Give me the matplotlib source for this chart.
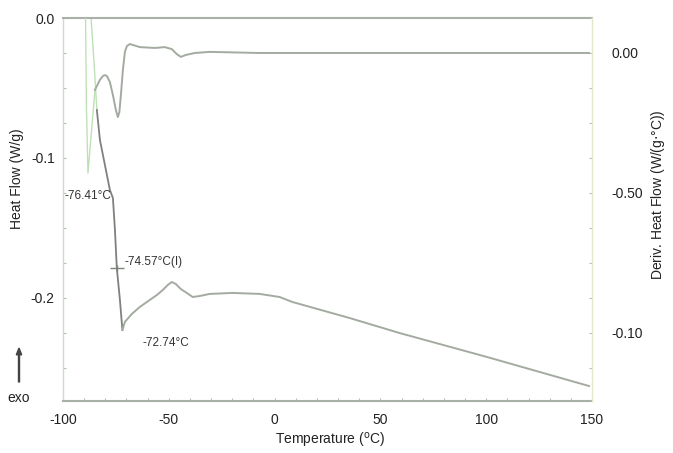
import matplotlib
matplotlib.use("Agg")
import matplotlib.pyplot as plt
from matplotlib.patches import FancyArrow
from matplotlib.ticker import MultipleLocator, FixedLocator

plt.rcParams['font.family'] = ['Liberation Sans', 'DejaVu Sans']

# Heat flow (W/g) vs temperature (°C): early light-green segment, then main trace
hf_early_T = [-87.0, -85.4, -84.0]
hf_early_H = [0.0057, -0.030, -0.0657]

hf_T = [-84.0, -82.55, -80.19, -77.83, -76.41, -75.47, -74.57, -73.1, -71.93,
        -70.75, -67.45, -63.68, -58.96, -55.66, -52.83, -50.47, -48.58, -46.7,
        -44.34, -41.5, -38.7, -35.38, -30.66, -19.8, -7.08, 2.36, 8.49, 35.4,
        58.96, 100.0, 148.6]
hf_H = [-0.0657, -0.0871, -0.105, -0.1229, -0.1286, -0.151, -0.1786, -0.2014, -0.2229,
        -0.2171, -0.2114, -0.2064, -0.2014, -0.1979, -0.1943, -0.1907, -0.1886, -0.19,
        -0.1936, -0.1964, -0.1993, -0.1986, -0.1971, -0.1964, -0.1971, -0.1993, -0.2029,
        -0.2143, -0.225, -0.242, -0.2629]

# Derivative heat flow (W/(g·°C)): early light-green spike, then main trace
dhf_early_T = [-89.4, -88.9, -88.2, -85.7, -84.9]
dhf_early_D = [0.0171, -0.0204, -0.0429, -0.0204, -0.0132]

dhf_T = [-84.9, -82.55, -81.13, -80.19, -79.25, -77.83, -76.42, -75.0, -74.06,
         -73.35, -72.64, -71.7, -70.75, -69.8, -68.4, -63.7, -56.6, -51.9,
         -48.6, -46.2, -44.3, -42.0, -37.7, -30.66, -7.1, 148.6]
dhf_D = [-0.0132, -0.0096, -0.0082, -0.0079, -0.0082, -0.0104, -0.015, -0.0204, -0.0229,
         -0.0211, -0.015, -0.0061, 0.0004, 0.0025, 0.0032, 0.0021, 0.0018, 0.0021,
         0.0014, -0.0004, -0.0014, -0.0007, 0.0, 0.0004, 0.0, 0.0]

x_ticks = [-100, -50, 0, 50, 100, 150]
left_ticks = [0.0, -0.1, -0.2]
left_labels = ['0.0', '-0.1', '-0.2']
right_ticks = [0.0, -0.05, -0.10]
right_labels = ['0.00', '-0.50', '-0.10']

# Marked points on the heat flow trace
onset_T, onset_H = -76.41, -0.1286
glass_T, glass_H = -74.57, -0.1786
end_T, end_H = -72.74, -0.2229

gray = '#a3aba1'
dark = '#7d827b'
light_green = '#bfe0b6'
axis_gray = '#a9b0a7'

fig = plt.figure(figsize=(6.73, 4.53), dpi=100)
ax = fig.add_axes([63/673, 1-401/453, (592-63)/673, (401-18)/453])
ax2 = ax.twinx()

ax.plot(hf_early_T, hf_early_H, color=light_green, lw=1.0)
ax.plot(hf_T[:9], hf_H[:9], color=dark, lw=1.3)
ax.plot(hf_T[8:], hf_H[8:], color=gray, lw=1.4)

ax2.plot(dhf_early_T, dhf_early_D, color=light_green, lw=1.0)
ax2.plot(dhf_T, dhf_D, color=gray, lw=1.4)

ax.set_xlim(-100, 150)
ax.set_ylim(-0.2736, 0.0)
ax2.set_ylim(-0.1243, 0.0125)

ax.xaxis.set_major_locator(FixedLocator(x_ticks))
ax.xaxis.set_minor_locator(MultipleLocator(10))
ax.set_xticklabels([str(v) for v in x_ticks])
ax.yaxis.set_major_locator(FixedLocator(left_ticks))
ax.yaxis.set_minor_locator(MultipleLocator(0.025))
ax.set_yticklabels(left_labels)
ax2.yaxis.set_major_locator(FixedLocator(right_ticks))
ax2.yaxis.set_minor_locator(MultipleLocator(0.0125))
ax2.set_yticklabels(right_labels)

for a in (ax, ax2):
    a.tick_params(which='both', direction='in', length=2.5, width=0.8,
                  color='#b8c0b4', labelsize=10, labelcolor='#222222')
    a.tick_params(which='minor', length=2)
ax.tick_params(axis='x', pad=9)
ax.tick_params(axis='y', pad=6)
ax2.tick_params(axis='y', pad=14)

ax.spines['top'].set_color(axis_gray)
ax.spines['top'].set_linewidth(1.5)
ax.spines['bottom'].set_color(axis_gray)
ax.spines['bottom'].set_linewidth(1.5)
ax.spines['left'].set_color('#c6e3bd')
ax.spines['left'].set_linewidth(1.0)
ax.spines['right'].set_visible(False)
for s in ('top', 'bottom', 'left'):
    ax2.spines[s].set_visible(False)
ax2.spines['right'].set_color('#e2e8c9')
ax2.spines['right'].set_linewidth(1.0)

ax.set_xlabel('Temperature ($^{\\mathrm{o}}$C)', fontsize=10, color='#222222')
ax.xaxis.set_label_coords(0.505, -0.078)
ax.set_ylabel('Heat Flow (W/g)', fontsize=10, color='#222222')
ax.yaxis.set_label_coords(-0.074, 0.58)
ax2.set_ylabel('Deriv. Heat Flow (W/(g$\\cdot$°C))', fontsize=10, color='#222222')
ax2.yaxis.set_label_coords(1.108, 0.54)

# Annotations on the glass transition
ann = dict(fontsize=8.5, color='#333333')
ax.text(onset_T - 0.5, onset_H + 0.0015, '-76.41°C', ha='right', va='center', **ann)
ax.plot([glass_T], [glass_H], marker='_', ms=10, color=dark, mew=1)
ax.plot([glass_T], [glass_H], marker='|', ms=5, color=dark, mew=1)
ax.text(glass_T + 3.4, glass_H + 0.0043, '-74.57°C(I)', ha='left', va='center', **ann)
ax.text(end_T + 10.4, end_H - 0.0093, '-72.74°C', ha='left', va='center', **ann)

# exo direction indicator
fig.patches.append(FancyArrow(
    19/673, 1-382/453, 0, 34/453, width=0.0015,
    head_width=0.008, head_length=0.015, color='#444444',
    transform=fig.transFigure, length_includes_head=True))
fig.text(19/673, 1-398/453, 'exo', ha='center', va='center', fontsize=10, color='#222222')

fig.savefig('out.png', dpi=100)
